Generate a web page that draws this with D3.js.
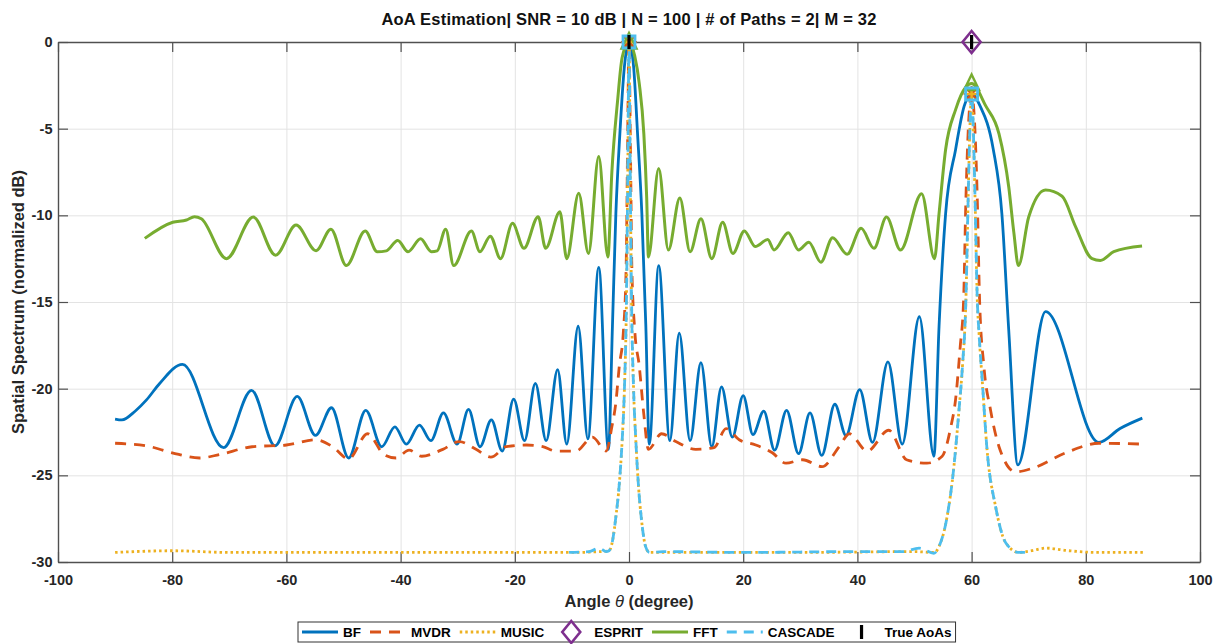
<!DOCTYPE html>
<html>
<head>
<meta charset="utf-8">
<script src="https://cdn.jsdelivr.net/npm/d3@7"></script>
<style>
  body { margin: 0; background: #fff; }
  svg { display: block; font-family: "Liberation Sans", Arial, sans-serif; }
</style>
</head>
<body>
<div id="chart"></div>
<script>
// ---- data (angle in degrees, spectrum in normalized dB) ----
const xTicks = [-100, -80, -60, -40, -20, 0, 20, 40, 60, 80, 100];
const yTicks = [-30, -25, -20, -15, -10, -5, 0];

const bfPoints = [
  [-90, -21.75], [-88.8, -21.8], [-86.5, -21.3], [-84.5, -20.65], [-82.2, -19.7], [-78.2, -18.6],
  [-71, -23.4], [-66.1, -20.1], [-62, -23.3],
  [-58.1, -20.45], [-54.9, -22.7], [-52.1, -21.1], [-49.1, -24.0], [-46.1, -21.25], [-43.3, -23.35],
  [-41, -22.2], [-39, -23.2], [-36.7, -22.1], [-34.7, -23.0], [-32.5, -21.4], [-30.1, -23.2],
  [-28.1, -21.2], [-26.1, -23.35], [-24.1, -21.8], [-22.2, -23.6], [-20.2, -20.6], [-18.3, -23.0],
  [-16.4, -19.7], [-14.5, -23.0], [-12.5, -18.9], [-10.9, -23.2], [-8.9, -16.4], [-7.2, -22.9],
  [-5.3, -13.0], [-3.6, -23.5], [-2.9, -16.4], [-2.3, -9.9], [-1.6, -5.3], [-0.8, -1.4], [0, 0],
  [0.8, -1.4], [1.5, -5.3], [2.25, -9.9], [2.95, -16.4], [3.55, -23.2], [5.2, -12.9], [7.15, -23.0],
  [8.8, -16.8], [10.7, -23.0], [12.6, -18.5], [14.5, -23.35], [16.2, -19.9], [18.1, -22.8],
  [20.0, -20.4], [21.7, -22.65], [23.6, -21.3], [25.5, -23.55], [27.6, -21.25], [29.7, -23.75],
  [31.7, -21.4], [33.75, -23.85], [36.05, -20.9], [38.0, -22.7], [40.4, -20.05], [42.65, -23.1],
  [45.35, -18.45], [47.85, -23.2], [50.85, -15.85], [53.4, -23.9], [54.3, -16.4], [55.45, -9.9],
  [57.2, -6.2], [58.7, -3.7], [60, -3.0], [61.5, -3.7], [63.8, -6.2], [65.3, -9.9], [66.5, -16.6],
  [68.1, -24.4], [72.95, -15.55], [82.3, -23.1], [86, -22.3], [89.9, -21.7]
];

const mvdrPoints = [
  [-90, -23.15], [-84.5, -23.3], [-80, -23.7], [-75.2, -24.0], [-71.7, -23.8], [-66, -23.35],
  [-60, -23.25], [-54.8, -22.95], [-51.9, -23.35], [-49.1, -24.05], [-45.8, -22.6], [-42.9, -23.8],
  [-40.8, -24.0], [-38.5, -23.55], [-36.3, -23.9], [-32.6, -23.5], [-29.7, -23.05], [-26.8, -23.5],
  [-24.2, -23.95], [-21.5, -23.35], [-18, -23.25], [-15.1, -23.35], [-12.8, -23.6], [-9.3, -23.6],
  [-6.4, -22.8], [-4.0, -23.6], [-3.0, -22.2], [-2.3, -20.8], [-1.7, -18.7], [-1.0, -16.8],
  [-0.5, -13], [-0.25, -6], [0, 0], [0.25, -6], [0.5, -13], [1.0, -16.6], [1.8, -18.7],
  [2.6, -21.5], [3.4, -23.5], [5.7, -22.6], [8.2, -23.05], [11.7, -23.5], [14.9, -23.4],
  [17.0, -22.3], [19.3, -22.95], [22.2, -23.25], [25.1, -23.7], [27.5, -24.3], [30.4, -24.1],
  [33.8, -24.5], [36.8, -23.35], [38.6, -22.6], [41.7, -23.6], [45.5, -22.4], [48.6, -24.1],
  [52.2, -24.3], [54.85, -23.9], [56.3, -22.3], [57.2, -20.6], [58.0, -17.6], [58.6, -14.9],
  [59.0, -9.1], [59.5, -4.5], [60, -3.0], [60.5, -4.5], [61.0, -9.1], [61.4, -14.9], [62.15, -18.7],
  [63.3, -21.2], [64.8, -23.35], [67.7, -24.8], [70.6, -24.6], [76.5, -23.7], [82.3, -23.15],
  [90, -23.2]
];

const musicPoints = [
  [-90, -29.45], [-80, -29.35], [-70, -29.45], [-50, -29.45], [-30, -29.45], [-10, -29.45],
  [-5, -29.4], [-3.5, -29.35], [-2.9, -28.8], [-2.3, -27.4], [-1.7, -25.5], [-1.2, -23],
  [-0.8, -20], [-0.45, -15], [-0.2, -7], [0, 0], [0.2, -7], [0.45, -15], [0.8, -20], [1.2, -23],
  [1.7, -25.8], [2.2, -27.6], [2.9, -29.1], [3.6, -29.45], [10, -29.45], [30, -29.45], [50, -29.4],
  [53.5, -29.45], [54.3, -29.1], [55.7, -27.4], [56.9, -24.5], [57.8, -21.2], [58.4, -18.7],
  [59.0, -14.9], [59.4, -9], [59.7, -5], [60, -3.0], [60.3, -5], [60.6, -9], [61.0, -14.9],
  [61.3, -16.8], [61.9, -19.7], [62.7, -23.5], [64.2, -26.8], [66, -28.9], [68.3, -29.45],
  [70.5, -29.35], [73, -29.2], [77, -29.35], [82, -29.45], [90, -29.45]
];

const cascadePoints = [
  [-10.5, -29.45], [-7, -29.4], [-5.2, -29.2], [-4, -29.4], [-3.5, -29.35], [-2.9, -28.8],
  [-2.3, -27.4], [-1.7, -25.5], [-1.2, -23], [-0.8, -20], [-0.45, -15], [-0.2, -7], [0, 0],
  [0.2, -7], [0.45, -15], [0.8, -20], [1.2, -23], [1.7, -25.8], [2.2, -27.6], [2.9, -29.1],
  [3.6, -29.45], [6, -29.4], [20, -29.45], [40, -29.4], [48, -29.4], [50.8, -29.2], [53.4, -29.5],
  [54.3, -29.1], [55.7, -27.4], [56.9, -24.5], [57.8, -21.2], [58.4, -18.7], [59.0, -14.9],
  [59.4, -9], [59.7, -5], [60, -3.0], [60.3, -5], [60.6, -9], [61.0, -14.9], [61.3, -16.8],
  [61.9, -19.7], [62.7, -23.5], [64.2, -26.8], [66, -28.9], [68.3, -29.45], [70.5, -29.45]
];

const fftPoints = [
  [-84.8, -11.33], [-79.9, -10.4], [-77.5, -10.27], [-76.1, -10.08], [-74.9, -10.2], [-70.5, -12.5],
  [-65.8, -10.1], [-61.9, -12.3], [-58.3, -10.56], [-54.8, -12.04], [-52.2, -10.8], [-49.5, -12.9],
  [-46.2, -10.9], [-44.1, -12.1], [-42.5, -12.05], [-40.5, -11.45], [-38.7, -12.1], [-36.5, -11.35],
  [-34.6, -12.1], [-33.6, -12.05], [-32.1, -10.8], [-30.7, -12.9], [-27.6, -10.9], [-26.1, -12.1],
  [-24.3, -11.2], [-22.5, -12.5], [-20.4, -10.46], [-18.4, -11.9], [-15.9, -10.08], [-14.6, -11.9],
  [-12.1, -9.8], [-10.9, -12.5], [-8.8, -8.73], [-7.1, -12.2], [-5.3, -6.6], [-3.7, -12.4],
  [-3.0, -7.5], [-2.0, -3.4], [-1.2, -0.9], [0, 0], [1.0, -0.8], [1.8, -2.4], [2.6, -5.3],
  [3.1, -9.0], [3.4, -12.4], [5.2, -7.3], [6.9, -12.0], [8.9, -9.0], [10.7, -12.1], [12.6, -10.2],
  [14.5, -12.5], [16.4, -10.4], [18.2, -12.2], [20.2, -10.9], [22.1, -11.8], [24.3, -11.4],
  [25.4, -12.0], [27.9, -11.0], [29.7, -12.0], [31.5, -11.55], [33.6, -12.7], [35.65, -11.3],
  [38.2, -12.25], [40.65, -10.75], [42.9, -11.9], [45.1, -10.1], [47.55, -12.0], [51.25, -8.75],
  [53.5, -12.5], [54.3, -9.9], [55.45, -6.2], [57.2, -3.9], [59, -2.6], [60, -2.4], [62.5, -3.7],
  [64.8, -5.3], [66.5, -8.35], [67.4, -11.0], [68.2, -12.9], [70.0, -10.1], [72.95, -8.54],
  [75.85, -8.9], [78.2, -10.65], [81.1, -12.5], [82.55, -12.6], [84.9, -12.1], [89.85, -11.77]
];

// estimated peaks (only the marks that show in the picture)
const mvdrPeaks = [[0, 0], [60, -3.0]];
const musicPeaks = [[0, 0], [60, -3.0]];
const espritPeaks = [[60, 0]];
const fftPeaks = [[0, 0], [60, -2.4]];
const cascadePeaks = [[0, 0], [60, -3.0]];
const trueAoAs = [[0, 0], [60, 0]];

const legendNames = ['BF', 'MVDR', 'MUSIC', 'ESPRIT', 'FFT', 'CASCADE', 'True AoAs'];

// ---- styles ----
const STYLE = {
  'BF':        { color: '#0072BD', dash: null,      width: 2.8, kind: 'line' },
  'MVDR':      { color: '#D95319', dash: '11,8',    width: 2.8, kind: 'line' },
  'MUSIC':     { color: '#EDB120', dash: '2.5,3',   width: 2.8, kind: 'line' },
  'ESPRIT':    { color: '#7E2F8E', kind: 'diamond' },
  'FFT':       { color: '#77AC30', dash: null,      width: 3,   kind: 'line' },
  'CASCADE':   { color: '#4DBEEE', dash: '10,7',    width: 2.8, kind: 'line' },
  'True AoAs': { color: '#000000', kind: 'bar' }
};

const WIDTH = 1221, HEIGHT = 644;
const PLOT = { left: 58, right: 1200, top: 42, bottom: 562 };
const FONT = '"Liberation Sans", Arial, Helvetica, sans-serif';
const AXIS_COLOR = '#505050';
const TICK_LEN = 10;

const svg = d3.select('#chart').append('svg')
  .attr('width', WIDTH)
  .attr('height', HEIGHT)
  .style('background', '#fff');

const x = d3.scaleLinear().domain([-100, 100]).range([PLOT.left, PLOT.right]);
const y = d3.scaleLinear().domain([-30, 0]).range([PLOT.bottom, PLOT.top]);
const plotW = PLOT.right - PLOT.left;
const plotH = PLOT.bottom - PLOT.top;

// Grid
svg.append('g')
  .attr('transform', `translate(0,${PLOT.bottom})`)
  .call(d3.axisBottom(x).tickValues(xTicks).tickSize(-plotH).tickFormat(''))
  .call(g => g.select('.domain').remove())
  .call(g => g.selectAll('line').attr('stroke', '#e3e3e3').attr('stroke-width', 1));
svg.append('g')
  .attr('transform', `translate(${PLOT.left},0)`)
  .call(d3.axisLeft(y).tickValues(yTicks).tickSize(-plotW).tickFormat(''))
  .call(g => g.select('.domain').remove())
  .call(g => g.selectAll('line').attr('stroke', '#e3e3e3').attr('stroke-width', 1));

// Axes (ticks point inward, box on all sides)
function styleAxis(g) {
  g.select('.domain').attr('stroke', AXIS_COLOR).attr('stroke-width', 1.4);
  g.selectAll('.tick line').attr('stroke', AXIS_COLOR).attr('stroke-width', 1.2);
  g.selectAll('.tick text')
    .attr('fill', '#262626')
    .style('font-family', FONT)
    .style('font-size', '14.5px')
    .style('font-weight', 'bold');
}
const fmt = d => String(d);

svg.append('g')
  .attr('transform', `translate(0,${PLOT.bottom})`)
  .call(d3.axisBottom(x).tickValues(xTicks).tickSizeInner(-TICK_LEN).tickSizeOuter(0)
    .tickPadding(12.5).tickFormat(fmt))
  .call(styleAxis);
svg.append('g')
  .attr('transform', `translate(0,${PLOT.top})`)
  .call(d3.axisTop(x).tickValues(xTicks).tickSizeInner(-TICK_LEN).tickSizeOuter(0).tickFormat(''))
  .call(styleAxis);
svg.append('g')
  .attr('transform', `translate(${PLOT.left},0)`)
  .call(d3.axisLeft(y).tickValues(yTicks).tickSizeInner(-TICK_LEN).tickSizeOuter(0)
    .tickPadding(5.5).tickFormat(fmt))
  .call(styleAxis);
svg.append('g')
  .attr('transform', `translate(${PLOT.right},0)`)
  .call(d3.axisRight(y).tickValues(yTicks).tickSizeInner(-TICK_LEN).tickSizeOuter(0).tickFormat(''))
  .call(styleAxis);

// Curves
const line = d3.line()
  .x(d => x(d[0]))
  .y(d => y(d[1]))
  .curve(d3.curveMonotoneX);

function drawCurve(points, name) {
  const s = STYLE[name];
  svg.append('path')
    .datum(points)
    .attr('d', line)
    .attr('fill', 'none')
    .attr('stroke', s.color)
    .attr('stroke-width', s.width)
    .attr('stroke-dasharray', s.dash)
    .attr('stroke-linejoin', 'round');
}

drawCurve(bfPoints, 'BF');
drawCurve(mvdrPoints, 'MVDR');
drawCurve(musicPoints, 'MUSIC');
drawCurve(fftPoints, 'FFT');
drawCurve(cascadePoints, 'CASCADE');

// Marker shapes
const DIAMOND = 'M0,-11 L9,0 L0,11 L-9,0 Z';
const TRIANGLE = 'M0,-9 L7.5,6.5 L-7.5,6.5 Z';
const SQUARE = 'M-6,-6 L6,-6 L6,6 L-6,6 Z';
const ASTERISK = 'M-8,0 L8,0 M0,-8 L0,8 M-5.7,-5.7 L5.7,5.7 M-5.7,5.7 L5.7,-5.7';
const PLUS = 'M-5,0 L5,0 M0,-5 L0,5';

function drawMarkers(points, shape, color, strokeW) {
  svg.append('g').selectAll('path')
    .data(points)
    .join('path')
    .attr('transform', d => `translate(${x(d[0])},${y(d[1])})`)
    .attr('d', shape)
    .attr('fill', 'none')
    .attr('stroke', color)
    .attr('stroke-width', strokeW)
    .attr('stroke-linejoin', 'miter');
}

drawMarkers(espritPeaks, DIAMOND, STYLE['ESPRIT'].color, 2.6);
drawMarkers(mvdrPeaks, ASTERISK, STYLE['MVDR'].color, 2);
drawMarkers(musicPeaks, PLUS, STYLE['MUSIC'].color, 2.4);
drawMarkers(fftPeaks, TRIANGLE, STYLE['FFT'].color, 2.4);
drawMarkers(cascadePeaks, SQUARE, STYLE['CASCADE'].color, 2.8);

// True AoAs: short black bars
svg.append('g').selectAll('rect')
  .data(trueAoAs)
  .join('rect')
  .attr('x', d => x(d[0]) - 1.6)
  .attr('y', d => y(d[1]) - 7)
  .attr('width', 3.2)
  .attr('height', 14)
  .attr('fill', '#000');

// Title and axis labels
svg.append('text')
  .attr('x', (PLOT.left + PLOT.right) / 2)
  .attr('y', 24.5)
  .attr('text-anchor', 'middle')
  .style('font-family', FONT)
  .style('font-size', '16.5px')
  .style('font-weight', 'bold')
  .style('letter-spacing', '0.2px')
  .attr('fill', '#111')
  .text('AoA Estimation| SNR = 10 dB | N = 100 | # of Paths = 2| M = 32');

const xLabel = svg.append('text')
  .attr('x', (PLOT.left + PLOT.right) / 2)
  .attr('y', 607)
  .attr('text-anchor', 'middle')
  .style('font-family', FONT)
  .style('font-size', '16.5px')
  .style('font-weight', 'bold')
  .attr('fill', '#262626');
xLabel.append('tspan').text('Angle ');
xLabel.append('tspan').style('font-style', 'italic').style('font-weight', 'normal').text('θ');
xLabel.append('tspan').text(' (degree)');

svg.append('text')
  .attr('transform', `translate(23.5,${(PLOT.top + PLOT.bottom) / 2}) rotate(-90)`)
  .attr('text-anchor', 'middle')
  .style('font-family', FONT)
  .style('font-size', '16.5px')
  .style('font-weight', 'bold')
  .attr('fill', '#262626')
  .text('Spatial Spectrum (normalized dB)');

// Legend (horizontal, below the axis label)
const LEG = { left: 298, top: 622, height: 20, sample: 36, gapText: 5, gapItem: 9 };
const legend = svg.append('g');
const legendBox = legend.append('rect')
  .attr('y', LEG.top)
  .attr('height', LEG.height)
  .attr('fill', '#fff')
  .attr('stroke', '#333')
  .attr('stroke-width', 1);

let cursor = LEG.left + 4;
const cy = LEG.top + LEG.height / 2;
legendNames.forEach(name => {
  const s = STYLE[name];
  if (s.kind === 'line') {
    legend.append('line')
      .attr('x1', cursor).attr('x2', cursor + LEG.sample)
      .attr('y1', cy).attr('y2', cy)
      .attr('stroke', s.color)
      .attr('stroke-width', s.width)
      .attr('stroke-dasharray', s.dash);
  } else if (s.kind === 'diamond') {
    legend.append('path')
      .attr('transform', `translate(${cursor + LEG.sample / 2},${cy})`)
      .attr('d', DIAMOND)
      .attr('fill', 'none')
      .attr('stroke', s.color)
      .attr('stroke-width', 2.6);
  } else {
    legend.append('rect')
      .attr('x', cursor + LEG.sample / 2 - 1.6)
      .attr('y', cy - 7)
      .attr('width', 3.2)
      .attr('height', 14)
      .attr('fill', s.color);
  }
  const t = legend.append('text')
    .attr('x', cursor + LEG.sample + LEG.gapText)
    .attr('y', cy + 5)
    .style('font-family', FONT)
    .style('font-size', '13.5px')
    .style('font-weight', 'bold')
    .attr('fill', '#000')
    .text(name);
  cursor += LEG.sample + LEG.gapText + t.node().getComputedTextLength() + LEG.gapItem;
});
legendBox
  .attr('x', LEG.left)
  .attr('width', cursor - LEG.gapItem + 4 - LEG.left);
</script>
</body>
</html>
